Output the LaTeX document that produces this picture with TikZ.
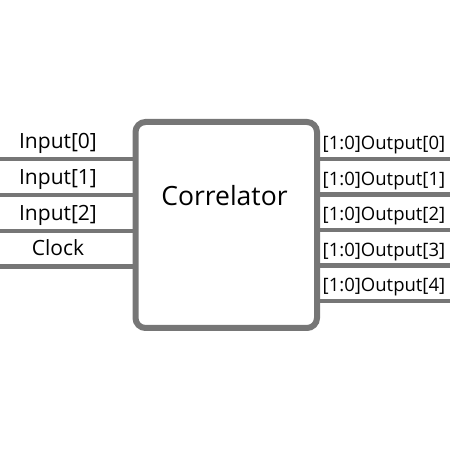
\documentclass[tikz,border=0pt]{standalone}
\usepackage{fontspec}
\setmainfont{Open Sans}
\definecolor{wire}{RGB}{118,118,118}

\tikzset{
  wireline/.style={draw=wire, line width=4.5pt},
  inlabel/.style={anchor=base, font=\fontsize{21}{25}\selectfont},
  outlabel/.style={anchor=base west, inner sep=0pt, font=\fontsize{18.5}{22}\selectfont}
}

\begin{document}
\begin{tikzpicture}[x=1pt,y=1pt]
            \useasboundingbox (0,0) rectangle (450,450);

            \node[draw=wire, line width=6pt, rounded corners=10pt, minimum width=181.5pt, minimum height=206pt, inner sep=0pt] (corr) at (226.25,225) {};
            \node[anchor=base, font=\fontsize{26.5}{31}\selectfont] (title) at (224.5,244.5) {Correlator};

            \coordinate (in0) at (0,291);
            \coordinate (in1) at (0,255);
            \coordinate (in2) at (0,219);
            \coordinate (in3) at (0,183.5);
            \draw[wireline] (in0) -- (in0 -| corr.west);
            \draw[wireline] (in1) -- (in1 -| corr.west);
            \draw[wireline] (in2) -- (in2 -| corr.west);
            \draw[wireline] (in3) -- (in3 -| corr.west);
            \node[inlabel] (lin0) at (58,301.5) {Input[0]};
            \node[inlabel] (lin1) at (58,265.5) {Input[1]};
            \node[inlabel] (lin2) at (58,229.5) {Input[2]};
            \node[inlabel] (lin3) at (58,194) {Clock};

            \coordinate (out0) at (450,291);
            \coordinate (out1) at (450,255.5);
            \coordinate (out2) at (450,220);
            \coordinate (out3) at (450,184.5);
            \coordinate (out4) at (450,149);
            \draw[wireline] (out0 -| corr.east) -- (out0);
            \draw[wireline] (out1 -| corr.east) -- (out1);
            \draw[wireline] (out2 -| corr.east) -- (out2);
            \draw[wireline] (out3 -| corr.east) -- (out3);
            \draw[wireline] (out4 -| corr.east) -- (out4);
            \node[outlabel] (lout0) at (322.5,300.5) {[1:0]Output[0]};
            \node[outlabel] (lout1) at (322.5,264.5) {[1:0]Output[1]};
            \node[outlabel] (lout2) at (322.5,229) {[1:0]Output[2]};
            \node[outlabel] (lout3) at (322.5,193.5) {[1:0]Output[3]};
            \node[outlabel] (lout4) at (322.5,158) {[1:0]Output[4]};
        \end{tikzpicture}
\end{document}
